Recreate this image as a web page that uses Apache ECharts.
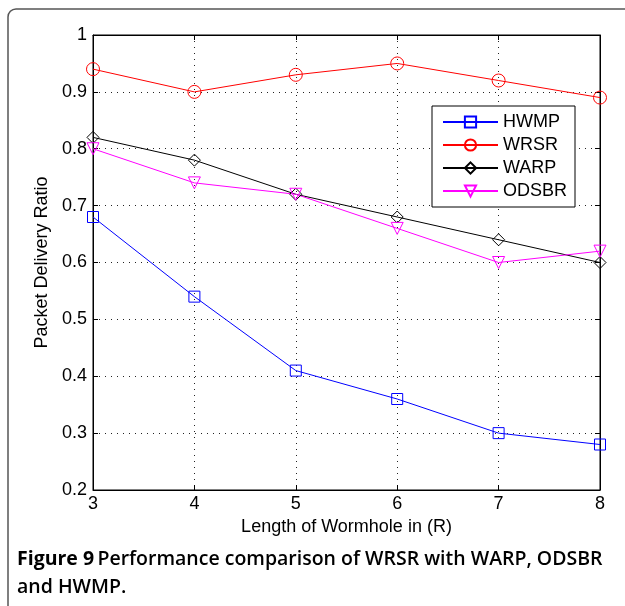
<!DOCTYPE html>
<html><head><meta charset="utf-8">
<script src="https://cdn.jsdelivr.net/npm/echarts@6/dist/echarts.min.js"></script>
<style>html,body{margin:0;padding:0;background:#fff}#c{width:625px;height:606px}</style>
</head><body><div id="c"></div>
<script>
const xValues = [3, 4, 5, 6, 7, 8];
const hwmp  = [0.68, 0.54, 0.41, 0.36, 0.30, 0.28];
const wrsr  = [0.94, 0.90, 0.93, 0.95, 0.92, 0.89];
const warp  = [0.82, 0.78, 0.72, 0.68, 0.64, 0.60];
const odsbr = [0.80, 0.74, 0.72, 0.66, 0.60, 0.62];
const seriesNames = ['HWMP', 'WRSR', 'WARP', 'ODSBR'];
const xTitle = 'Length of Wormhole in (R)';
const yTitle = 'Packet Delivery Ratio';

const pairs = arr => arr.map((v, i) => [xValues[i], v]);
const font = '"Liberation Sans", Arial, sans-serif';

function mk(name, data, color, symbol, size, rot) {
  return {
    name, type: 'line', data: pairs(data), symbol, symbolSize: size, symbolRotate: rot || 0,
    lineStyle: { color, width: 1 },
    itemStyle: { color: 'rgba(255,255,255,0)', borderColor: color, borderWidth: 1 },
    emphasis: { disabled: true }, animation: false, z: 3
  };
}

const chart = echarts.init(document.getElementById('c'), null, { renderer: 'canvas' });
const axisCommon = {
  type: 'value', axisLine: { show: true, lineStyle: { color: '#000', width: 1 } },
  axisTick: { show: true, inside: true, length: 5, lineStyle: { color: '#000' } },
  splitLine: { show: false }
};
chart.setOption({
  animation: false,
  grid: { left: 93, right: 25, top: 35, bottom: 116, show: true, borderColor: '#000', borderWidth: 1 },
  xAxis: [
    Object.assign({}, axisCommon, { min: 3, max: 8, interval: 1, position: 'bottom',
      name: xTitle, nameLocation: 'middle', nameGap: 28,
      nameTextStyle: { fontFamily: font, fontSize: 18, color: '#000' },
      axisLabel: { fontFamily: font, fontSize: 18, color: '#000', margin: 5 },
      splitLine: { show: true, lineStyle: { color: '#222', type: [1, 5], width: 1 } } }),
    Object.assign({}, axisCommon, { min: 3, max: 8, interval: 1, position: 'top', axisLabel: { show: false } })
  ],
  yAxis: [
    Object.assign({}, axisCommon, { min: 0.2, max: 1, interval: 0.1, position: 'left',
      name: yTitle, nameLocation: 'middle', nameGap: 41,
      nameTextStyle: { fontFamily: font, fontSize: 18, color: '#000' },
      axisLabel: { fontFamily: font, fontSize: 18, color: '#000', margin: 6,
        formatter: v => (Math.abs(v - 1) < 1e-9 ? '1' : v.toFixed(1)) },
      splitLine: { show: true, lineStyle: { color: '#222', type: [1, 5], width: 1 } } }),
    Object.assign({}, axisCommon, { min: 0.2, max: 1, interval: 0.1, position: 'right', axisLabel: { show: false } })
  ],
  legend: {
    left: 432, top: 106, orient: 'vertical', data: seriesNames,
    backgroundColor: '#fff', borderColor: '#000', borderWidth: 1, borderRadius: 0,
    padding: [7, 8, 7, 10], itemGap: 5, itemWidth: 55, itemHeight: 14,
    textStyle: { fontFamily: font, fontSize: 18, color: '#000' }, selectedMode: false
  },
  series: [
    mk('HWMP', hwmp, '#0000ff', 'rect', 11),
    mk('WRSR', wrsr, '#ff0000', 'circle', 13),
    mk('WARP', warp, '#000000', 'diamond', 12),
    mk('ODSBR', odsbr, '#ff00ff', 'triangle', 12, 180)
  ],
  graphic: [
    { type: 'rect', shape: { x: 8, y: 9, width: 640, height: 620, r: 8 },
      style: { fill: 'none', stroke: '#555', lineWidth: 1.5 }, z: -1 },
    { type: 'text', left: 17, top: 545, style: {
        rich: { b: { fontFamily: '"Open Sans", sans-serif', fontWeight: 700, fontSize: 19.5, fill: '#000' },
                n: { fontFamily: '"Open Sans", sans-serif', fontWeight: 600, fontSize: 19.5, fill: '#000' } },
        text: '{b|Figure 9} {n|Performance comparison of WRSR with WARP, ODSBR}\n{n|and HWMP.}',
        lineHeight: 28 } }
  ]
});
</script></body></html>
